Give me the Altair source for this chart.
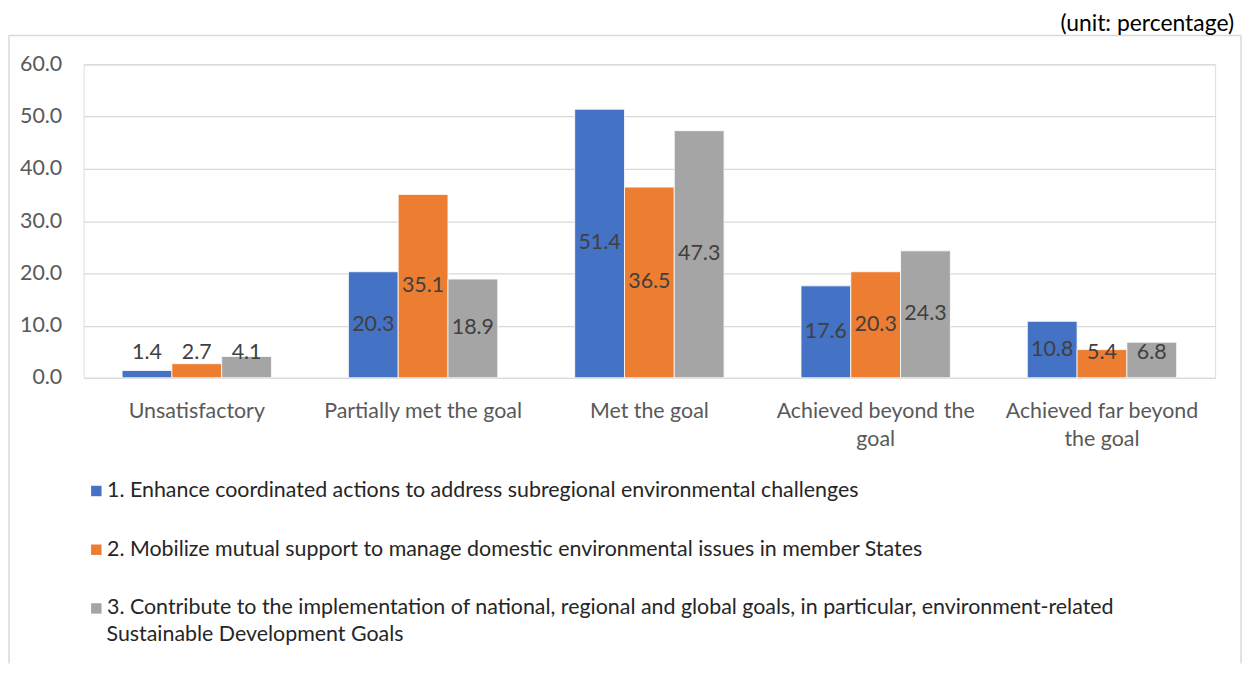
import altair as alt
import pandas as pd

categories = ["Unsatisfactory", "Partially met the goal", "Met the goal",
              "Achieved beyond the goal", "Achieved far beyond the goal"]
series = [
    "1. Enhance coordinated actions to address subregional environmental challenges",
    "2. Mobilize mutual support to manage domestic environmental issues in member States",
    "3. Contribute to the implementation of national, regional and global goals, in particular, environment-related Sustainable Development Goals",
]
s1 = [1.4, 20.3, 51.4, 17.6, 10.8]
s2 = [2.7, 35.1, 36.5, 20.3, 5.4]
s3 = [4.1, 18.9, 47.3, 24.3, 6.8]
colors = ["#4472C4", "#ED7D31", "#A5A5A5"]
y_ticks = [0, 10, 20, 30, 40, 50, 60]
unit_text = "(unit: percentage)"
legend3_line2 = "Sustainable Development Goals"

rows = []
for sname, vals in zip(series, [s1, s2, s3]):
    for c, v in zip(categories, vals):
        rows.append({"category": c, "series": sname, "value": v})
df = pd.DataFrame(rows)

FONT = "Lato"
W, H = 1137, 315
FS = 21.5

x_label_expr = (
    "datum.value == 'Achieved beyond the goal' ? ['Achieved beyond the', 'goal'] : "
    "datum.value == 'Achieved far beyond the goal' ? ['Achieved far beyond', 'the goal'] : datum.value"
)
legend_label_expr = (
    "indexof(datum.label, '3. ') == 0 ? replace(datum.label, ' Sustainable Development Goals', '') : datum.label"
)

x_enc = alt.X(
    "category:N", sort=categories,
    scale=alt.Scale(paddingInner=0.34, paddingOuter=0.17),
    axis=alt.Axis(title=None, labelAngle=0, domain=False, ticks=False,
                  labelExpr=x_label_expr, labelFontSize=FS, labelColor="#595959",
                  labelFont=FONT, labelPadding=34, labelLineHeight=28, labelBaseline="middle",
                  labelLimit=400),
)
xo_enc = alt.XOffset("series:N", sort=series, scale=alt.Scale(paddingInner=0, paddingOuter=0))

base = alt.Chart(df)

bars = base.mark_bar(stroke="white", strokeWidth=0.8).encode(
    x=x_enc,
    xOffset=xo_enc,
    y=alt.Y("value:Q", scale=alt.Scale(domain=[0, 60], nice=False),
            axis=alt.Axis(title=None, values=y_ticks, format=".1f", domain=False, ticks=False,
                          gridColor="#D9D9D9", gridWidth=1.3, labelFontSize=FS,
                          labelColor="#595959", labelFont=FONT, labelPadding=22)),
    color=alt.Color("series:N", sort=series,
                    scale=alt.Scale(domain=series, range=colors),
                    legend=alt.Legend(title=None, orient="none", legendX=2, legendY=418,
                                      direction="vertical", symbolType="square", symbolSize=110,
                                      symbolStrokeWidth=0, labelFontSize=FS, labelFont=FONT,
                                      labelColor="#262626", labelLimit=1200, labelOffset=0,
                                      rowPadding=36, padding=0, labelExpr=legend_label_expr)),
)

labels = base.transform_calculate(
    label_y="max(datum.value / 2, 4.8)"
).mark_text(fontSize=FS, font=FONT, color="#404040", baseline="middle").encode(
    x=alt.X("category:N", sort=categories),
    xOffset=alt.XOffset("series:N", sort=series),
    y=alt.Y("label_y:Q"),
    text=alt.Text("value:Q", format=".1f"),
)

dummy = alt.Chart(pd.DataFrame({"d": [0]}))
frame_left = dummy.mark_rule(color="#D9D9D9", strokeWidth=1.5).encode(
    x=alt.value(-75), y=alt.value(-29), y2=alt.value(602))
frame_right = dummy.mark_rule(color="#D9D9D9", strokeWidth=1.5).encode(
    x=alt.value(1163), y=alt.value(-29), y2=alt.value(602))
frame_top = dummy.mark_rule(color="#D9D9D9", strokeWidth=1.5).encode(
    x=alt.value(-75), x2=alt.value(1163), y=alt.value(-29))
unit = dummy.mark_text(align="right", baseline="middle", fontSize=23, font=FONT, color="#000000").encode(
    x=alt.value(1156), y=alt.value(-40), text=alt.value(unit_text))
leg_line2 = dummy.mark_text(align="left", baseline="middle", fontSize=FS, font=FONT, color="#262626").encode(
    x=alt.value(23), y=alt.value(573), text=alt.value(legend3_line2))

chart = alt.layer(frame_left, frame_right, frame_top, unit, leg_line2, bars, labels).properties(
    width=W, height=H,
    autosize=alt.AutoSizeParams(type="none"),
    padding={"left": 76, "top": 55, "right": 27, "bottom": 287},
).configure_view(stroke=None).configure(font=FONT)

chart.save("out.html", embed_options={"renderer": "svg", "actions": False})
